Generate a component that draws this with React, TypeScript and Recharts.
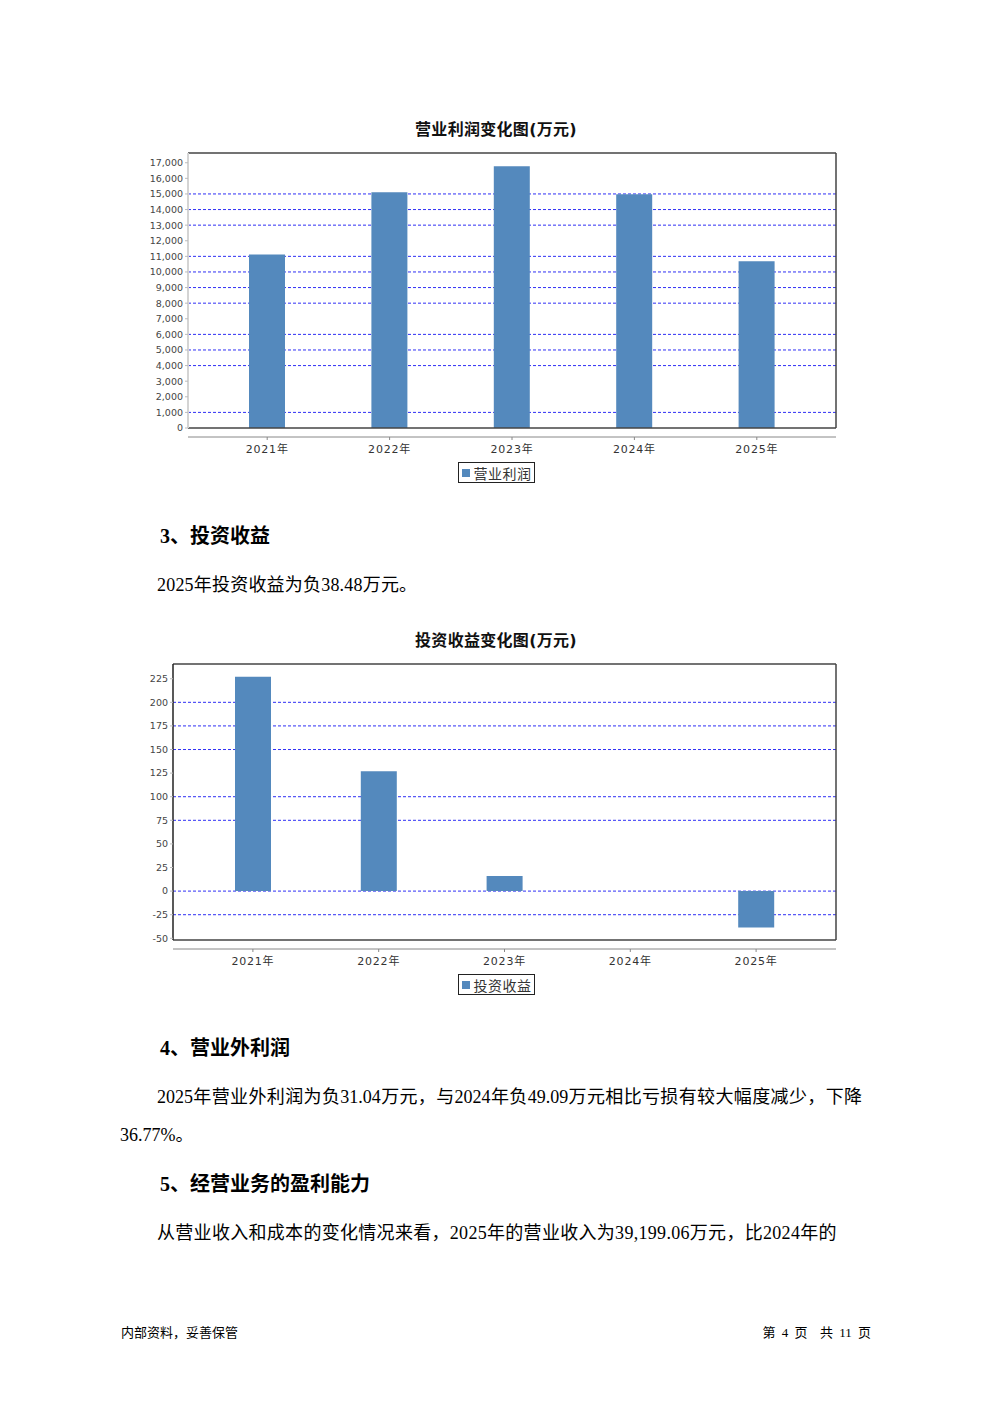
import React from 'react';
import { BarChart, Bar, XAxis, YAxis, CartesianGrid, Legend } from 'recharts';

// values (万元)
const years = ['2021年', '2022年', '2023年', '2024年', '2025年'];
const operatingProfit = [11120, 15110, 16780, 14980, 10680];
const investIncome = [227, 127, 16, 0, -38.48];

const profitTicks = [0, 1000, 2000, 3000, 4000, 5000, 6000, 7000, 8000, 9000, 10000, 11000, 12000, 13000, 14000, 15000, 16000, 17000];
const profitGrid = [1000, 4000, 5000, 6000, 8000, 9000, 10000, 11000, 13000, 14000, 15000];
const profitDomain = [0, 17624];

const investTicks = [-50, -25, 0, 25, 50, 75, 100, 125, 150, 175, 200, 225];
const investGrid = [-25, 0, 75, 100, 150, 175, 200];
const investDomain = [-51.8, 240.6];

const BAR_COLOR = '#5489bd';
const GRID_COLOR = '#2f2ff5';
const AXIS_FONT = '"DejaVu Sans", "Noto Sans CJK SC", sans-serif';
const TEXT_FONT = '"Liberation Serif", "Noto Sans CJK SC", serif';

const profitData = years.map((year, i) => ({ year, value: operatingProfit[i] }));
const investData = years.map((year, i) => ({ year, value: investIncome[i] }));

const LegendBox = ({ label }: { label: string }) => (
  <div style={{ display: 'flex', justifyContent: 'center' }}>
    <div
      style={{
        display: 'flex',
        alignItems: 'center',
        border: '1px solid #222',
        height: 19,
        padding: '0 2px 0 3px',
        fontFamily: AXIS_FONT,
        fontSize: 14,
        letterSpacing: 0.5,
        color: '#333',
      }}
    >
      <span style={{ width: 8, height: 8, background: BAR_COLOR, marginRight: 4, display: 'inline-block' }} />
      {label}
    </div>
  </div>
);

interface ChartProps {
  data: { year: string; value: number }[];
  top: number;
  height: number;
  left: number;
  pad: number;
  domain: number[];
  ticks: number[];
  grid: number[];
  label: string;
  leftLine: { stroke: string; strokeWidth: number };
}

const YearBarChart = ({ data, top, height, left, pad, domain, ticks, grid, label, leftLine }: ChartProps) => (
  <div style={{ position: 'absolute', left: 0, top }}>
    <BarChart width={992} height={height} data={data} margin={{ top: 12, right: 155, bottom: 7, left: left - 50 }}>
      <CartesianGrid
        vertical={false}
        horizontalValues={grid}
        stroke={GRID_COLOR}
        strokeDasharray="3 2"
      />
      <XAxis xAxisId="top" orientation="top" height={1} tick={false} tickLine={false} axisLine={{ stroke: '#444', strokeWidth: 1.5 }} />
      <XAxis dataKey="year" height={9} padding={{ left: pad, right: pad }} tick={false} tickLine={false} axisLine={{ stroke: '#444', strokeWidth: 1.5 }} />
      <XAxis
        xAxisId="lbl"
        dataKey="year"
        height={25}
        padding={{ left: pad, right: pad }}
        axisLine={{ stroke: '#888' }}
        tickLine={{ stroke: '#888' }}
        tickSize={3}
        tickMargin={5}
        tick={{ fill: '#333', fontSize: 11, fontFamily: AXIS_FONT, letterSpacing: 0.8 }}
      />
      <YAxis
        width={50}
        type="number"
        domain={domain}
        ticks={ticks}
        interval={0}
        allowDataOverflow
        axisLine={leftLine}
        tickLine={{ stroke: '#bbb' }}
        tickSize={3}
        tickMargin={2}
        tick={{ fill: '#444', fontSize: 9.5, fontFamily: AXIS_FONT }}
        tickFormatter={(v: number) => v.toLocaleString('en-US')}
      />
      <YAxis yAxisId="r" orientation="right" width={1} tick={false} tickLine={false} axisLine={{ stroke: '#444', strokeWidth: 1.5 }} />
      <Legend verticalAlign="bottom" wrapperStyle={{ left: 0, width: 992 }} content={() => <LegendBox label={label} />} />
      <Bar dataKey="value" name={label} fill={BAR_COLOR} barSize={36} isAnimationActive={false} />
    </BarChart>
  </div>
);

const Text = ({ left, cy, size, bold, children, right, spacing }: { left?: number; cy: number; size: number; bold?: boolean; children: React.ReactNode; right?: number; spacing?: number }) => (
  <div
    style={{
      position: 'absolute',
      left,
      right,
      top: cy - 15,
      lineHeight: '30px',
      fontSize: size,
      fontWeight: bold ? 'bold' : 'normal',
      fontFamily: TEXT_FONT,
      whiteSpace: 'pre',
      letterSpacing: spacing,
      color: '#000',
    }}
  >
    {children}
  </div>
);

const ChartTitle = ({ cy, children }: { cy: number; children: React.ReactNode }) => (
  <div
    style={{
      position: 'absolute',
      left: 0,
      width: 992,
      top: cy - 12,
      lineHeight: '24px',
      textAlign: 'center',
      fontSize: 16,
      fontWeight: 'bold',
      fontFamily: AXIS_FONT,
      letterSpacing: 0.3,
      color: '#111',
    }}
  >
    {children}
  </div>
);

export default function App() {
  return (
    <div style={{ position: 'absolute', left: 0, top: 0, width: 992, height: 1403, background: '#fff', overflow: 'hidden' }}>
      <ChartTitle cy={130}>营业利润变化图(万元)</ChartTitle>
      <YearBarChart
        data={profitData}
        top={140}
        height={350}
        left={188}
        pad={18}
        domain={profitDomain}
        ticks={profitTicks}
        grid={profitGrid}
        label="营业利润"
        leftLine={{ stroke: '#d4d4d4', strokeWidth: 2 }}
      />

      <Text left={160} cy={536} size={20} bold>3、投资收益</Text>
      <Text left={157} cy={585} size={18} spacing={0.2}>2025年投资收益为负38.48万元。</Text>

      <ChartTitle cy={641}>投资收益变化图(万元)</ChartTitle>
      <YearBarChart
        data={investData}
        top={651}
        height={351}
        left={173}
        pad={17}
        domain={investDomain}
        ticks={investTicks}
        grid={investGrid}
        label="投资收益"
        leftLine={{ stroke: '#222', strokeWidth: 1.5 }}
      />

      <Text left={160} cy={1048} size={20} bold>4、营业外利润</Text>
      <div
        style={{
          position: 'absolute',
          left: 157,
          width: 705,
          top: 1097 - 15,
          lineHeight: '30px',
          fontSize: 18,
          fontFamily: TEXT_FONT,
          textAlign: 'justify',
          textAlignLast: 'justify',
          whiteSpace: 'nowrap',
        }}
      >
        2025年营业外利润为负31.04万元，与2024年负49.09万元相比亏损有较大幅度减少，下降
      </div>
      <Text left={120} cy={1135} size={18}>36.77%。</Text>

      <Text left={160} cy={1184} size={20} bold>5、经营业务的盈利能力</Text>
      <Text left={157} cy={1233} size={18} spacing={0.3}>从营业收入和成本的变化情况来看，2025年的营业收入为39,199.06万元，比2024年的</Text>

      <Text left={121} cy={1333} size={13}>内部资料，妥善保管</Text>
      <div
        style={{
          position: 'absolute',
          right: 121,
          top: 1333 - 15,
          lineHeight: '30px',
          fontSize: 13,
          fontFamily: TEXT_FONT,
          whiteSpace: 'pre',
          wordSpacing: 3,
        }}
      >
        {'第 4 页  共 11 页'}
      </div>
    </div>
  );
}
